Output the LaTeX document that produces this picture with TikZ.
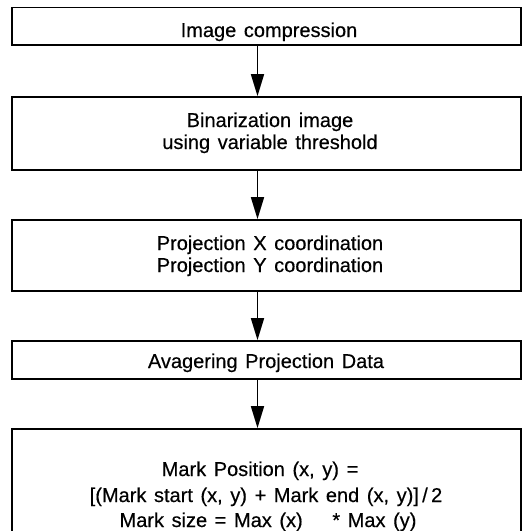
\documentclass[tikz,border=0pt]{standalone}
\usepackage{fontspec}
% regular face, slightly emboldened for the heavier print look
\setmainfont[BoldFont={Liberation Sans}, BoldFeatures={FakeBold=0.4}]{Liberation Sans}
\usetikzlibrary{arrows.meta}
\newcommand{\flowfont}{\fontsize{20}{24}\selectfont\bfseries\spaceskip=0.38em plus 0.1em\relax}
\begin{document}
\begin{tikzpicture}[x=1pt,y=-1pt,
  box/.style={draw, line width=1.7pt, inner sep=0pt, minimum width=509pt},
  lbl/.style={font=\flowfont, inner sep=0pt, anchor=base},
  flow/.style={line width=1.6pt, -{Triangle[length=22pt,width=13pt]}}]
\useasboundingbox (0,0) rectangle (525,531);

% process boxes
\node[box, minimum height=37.5pt] (b1) at (266.5,26.25) {};
\node[box, minimum height=73pt]   (b2) at (266.5,133.5) {};
\node[box, minimum height=71pt]   (b3) at (266.5,255.5) {};
\node[box, minimum height=38pt]   (b4) at (266.5,360) {};
\node[box, minimum height=106pt]  (b5) at (266.5,482) {};

% box texts
\node[lbl] (t1)  at (269,37)  {Image compression};
\node[lbl] (t2a) at (270,127) {Binarization image};
\node[lbl] (t2b) at (270,149) {using variable threshold};
\node[lbl] (t3a) at (270,250) {Projection X coordination};
\node[lbl] (t3b) at (270,272) {Projection Y coordination};
\node[lbl] (t4)  at (266,368) {Avagering Projection Data};
\node[lbl] (t5a) at (260,476) {Mark Position (x, y) =};
\node[lbl] (t5b) at (266,502) {[(Mark start (x, y) + Mark end (x, y)]\,/\,2};
\node[lbl] (t5c) at (268,527) {Mark size = Max (x)\hspace{1.1em} * Max (y)};

% flow arrows
\coordinate (ax) at (257.5,0);
\draw[flow] (b1.south -| ax) -- (b2.north -| ax);
\draw[flow] (b2.south -| ax) -- (b3.north -| ax);
\draw[flow] (b3.south -| ax) -- (b4.north -| ax);
\draw[flow] (b4.south -| ax) -- (b5.north -| ax);
\end{tikzpicture}
\end{document}
